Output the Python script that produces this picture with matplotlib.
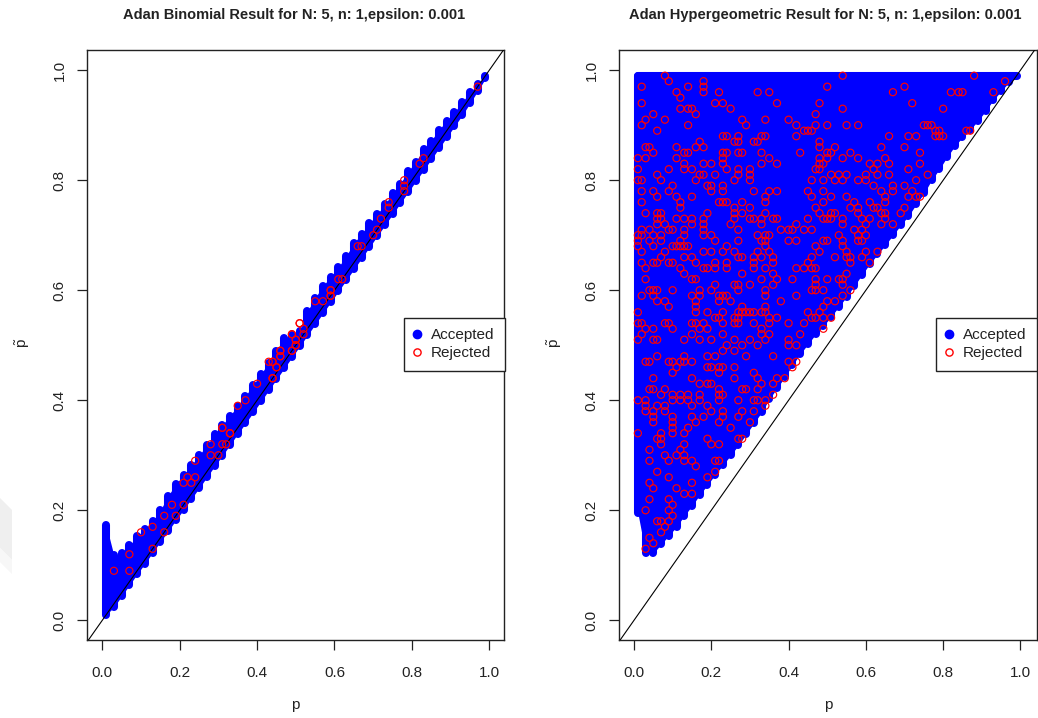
import matplotlib
matplotlib.use("Agg")
import matplotlib.pyplot as plt
from matplotlib.patches import Polygon
from matplotlib.lines import Line2D

plt.rcParams['font.family'] = ['Liberation Sans', 'DejaVu Sans']
plt.rcParams['mathtext.fontset'] = 'custom'
plt.rcParams['mathtext.rm'] = 'Liberation Sans'
plt.rcParams['mathtext.it'] = 'Liberation Sans'

title_left = "Adan Binomial Result for N: 5, n: 1,epsilon: 0.001"
title_right = "Adan Hypergeometric Result for N: 5, n: 1,epsilon: 0.001"
tick_values = [0.0, 0.2, 0.4, 0.6, 0.8, 1.0]
tick_labels = ["0.0", "0.2", "0.4", "0.6", "0.8", "1.0"]
legend_labels = ["Accepted", "Rejected"]

# accepted region, column by column
acc_p = [.01, .03, .05, .07, .09, .11, .13, .15, .17, .19, .21, .23, .25, .27, .29, .31, .33,
         .35, .37, .39, .41, .43, .45, .47, .49, .51, .53, .55, .57, .59, .61, .63, .65, .67,
         .69, .71, .73, .75, .77, .79, .81, .83, .85, .87, .89, .91, .93, .95, .97, .99]
acc_left_lo = [.01, .024, .044, .064, .084, .103, .123, .143, .162, .182, .201, .221, .240, .260, .280, .299, .319,
               .339, .358, .378, .398, .418, .438, .458, .478, .498, .518, .538, .558, .578, .598, .618, .638, .658,
               .678, .698, .718, .738, .758, .778, .798, .818, .838, .858, .878, .898, .918, .940, .962, .985]
acc_left_hi = [.173, .118, .122, .136, .153, .166, .180, .200, .226, .248, .264, .282, .300, .318,
               .338, .355, .372, .390, .408, .428, .448, .468, .490, .513, .518, .526, .562, .586,
               .608, .624, .642, .662, .686, .702, .722, .738, .756, .776, .794, .816, .834, .856,
               .872, .892, .908, .924, .942, .960, .974, .990]
acc_right_lo = [.195, .122, .122, .138, .154, .170, .190, .208, .228, .246, .265, .282, .300, .318,
                .338, .358, .378, .402, .422, .442, .464, .484, .502, .520, .535, .552, .570, .588,
                .608, .628, .648, .665, .682, .700, .718, .735, .756, .776, .800, .820, .842, .862,
                .878, .892, .908, .926, .946, .962, .978, .99]
acc_right_hi = [.99] * 50

# rejected points, left panel
rej_left_p = [.03, .07, .07, .13, .10, .13, .16, .16, .19, .18, .21, .21, .23, .22, .24, .24, .28, .30,
              .28, .31, .32, .33, .31, .33, .31, .33, .35, .37, .40, .44, .45, .43, .44, .46, .46, .49,
              .49, .50, .50, .51, .44, .44, .45, .46, .46, .49, .50, .50, .49, .51, .52, .52, .55, .57,
              .59, .59, .62, .59, .59, .61, .66, .67, .70, .71, .72, .74, .74, .78, .78, .78, .82, .83, .97]
rej_left_q = [.09, .09, .12, .13, .16, .17, .16, .19, .19, .21, .21, .25, .25, .26, .26, .29, .30, .30,
              .32, .32, .32, .34, .35, .34, .35, .34, .39, .40, .43, .44, .46, .47, .47, .48, .49, .49,
              .52, .51, .50, .54, .44, .47, .46, .49, .48, .49, .50, .51, .52, .54, .53, .52, .58, .58,
              .60, .59, .62, .60, .59, .62, .68, .68, .70, .71, .73, .76, .75, .80, .79, .78, .83, .84, .97]

# rejected points, right panel: one row per p-tilde value
rej_right_rows = [
    (.99, [.08, .54, .88]),
    (.98, [.09, .18, .96]),
    (.97, [.02, .14, .18, .50, .70]),
    (.96, [.11, .18, .22, .32, .35, .67, .82, .84, .85, .93]),
    (.95, [.12]),
    (.94, [.02, .21, .23, .37, .48, .72]),
    (.93, [.12, .14, .15, .25, .54, .80]),
    (.92, [.05, .16, .47]),
    (.91, [.03, .08, .28, .34, .40]),
    (.90, [.02, .14, .29, .42, .47, .50, .55, .58, .75, .76, .77]),
    (.89, [.06, .44, .45, .46, .78, .79, .86, .87]),
    (.88, [.23, .24, .27, .33, .34, .42, .66, .71, .73, .78, .79, .80]),
    (.87, [.17, .26, .27, .31, .32, .48]),
    (.86, [.03, .04, .11, .16, .18, .48, .52, .64, .70]),
    (.85, [.05, .13, .14, .23, .24, .27, .28, .33, .43, .50, .51, .56, .74]),
    (.84, [.01, .03, .11, .23, .35, .48, .50, .54, .58, .65]),
    (.83, [.13, .18, .20, .23, .33, .37, .48, .49, .61, .63, .66, .74]),
    (.82, [.01, .09, .13, .15, .24, .27, .30, .47, .48, .62, .71]),
    (.81, [.06, .17, .18, .21, .27, .30, .51, .53, .55, .60, .63, .66, .76]),
    (.80, [.01, .02, .07, .16, .26, .30, .46, .49, .52, .54, .58, .60, .73]),
    (.79, [.10, .19, .20, .23, .62, .67, .70]),
    (.78, [.02, .05, .09, .20, .23, .31, .35, .37, .45, .49, .64, .67, .72]),
    (.77, [.06, .11, .15, .34, .46, .51, .55, .65, .71, .73, .74]),
    (.76, [.02, .12, .22, .23, .24, .28, .34, .49, .57, .61, .65]),
    (.75, [.12, .26, .30, .47, .56, .58, .62, .63, .70]),
    (.74, [.03, .06, .07, .19, .26, .28, .34, .48, .51, .52, .58, .64, .65, .69]),
    (.73, [.06, .07, .11, .13, .15, .18, .26, .30, .31, .33, .36, .37, .45, .49, .50, .51, .54, .59, .61, .65]),
    (.72, [.06, .08, .15, .18, .25, .33, .42, .54, .60, .64, .67]),
    (.71, [.02, .04, .09, .10, .13, .18, .27, .38, .40, .41, .44, .46, .57, .59]),
    (.70, [.01, .02, .05, .07, .13, .18, .20, .32, .34, .35, .53, .58, .60]),
    (.69, [.01, .04, .07, .12, .21, .27, .33, .34, .40, .42, .49, .50, .54, .58, .59]),
    (.68, [.01, .05, .10, .11, .12, .13, .14, .24, .34, .47, .54]),
    (.67, [.02, .08, .18, .20, .23, .26, .32, .35, .48, .55, .60, .63]),
    (.66, [.07, .13, .15, .27, .28, .31, .33, .36, .46, .52, .55, .56, .59]),
    (.65, [.02, .05, .06, .09, .10, .16, .21, .24, .31, .36, .45, .56, .61]),
    (.64, [.03, .12, .18, .19, .21, .24, .31, .34, .42, .44, .46, .47]),
    (.63, [.13, .28, .36, .55]),
    (.62, [.03, .15, .16, .33, .37, .41, .47, .50, .53, .54]),
    (.61, [.21, .26, .27, .30, .36, .47, .54]),
    (.60, [.04, .05, .06, .10, .17, .20, .27, .34, .46, .47, .49, .56]),
    (.59, [.02, .05, .15, .17, .22, .23, .24, .34, .42, .54]),
    (.58, [.06, .08, .16, .22, .25, .38, .50, .52]),
    (.57, [.09, .16, .28, .34, .49]),
    (.56, [.01, .16, .19, .23, .27, .28, .29, .30, .31, .33, .34, .45, .48]),
    (.55, [.21, .22, .26, .27, .35, .37, .46, .47, .49, .51]),
    (.54, [.01, .02, .08, .09, .15, .16, .18, .23, .26, .27, .31, .35, .40, .44]),
    (.53, [.03, .05, .10, .17, .19, .33, .49]),
    (.52, [.02, .15, .23, .33, .35, .43]),
    (.51, [.01, .05, .06, .13, .17, .20, .26, .30, .34, .40]),
    (.50, [.24, .28, .32, .40, .42]),
    (.49, [.23, .26]),
    (.48, [.06, .13, .19, .21, .29, .36]),
    (.47, [.03, .04, .09, .10, .12, .13, .15, .40, .42]),
    (.46, [.11, .19, .20, .22, .23, .26, .41]),
    (.45, [.10, .22, .31]),
    (.44, [.05, .15, .26, .32, .37, .39]),
    (.43, [.17, .19, .20, .33, .36]),
    (.42, [.04, .05, .08, .22, .28, .29, .32]),
    (.41, [.07, .10, .12, .14, .17, .22, .23, .36]),
    (.40, [.01, .03, .10, .12, .14, .17, .22, .27, .31, .32, .34]),
    (.39, [.03, .06, .08, .15, .19, .34]),
    (.38, [.03, .05, .08, .20, .23, .28, .31]),
    (.37, [.05, .10, .15, .18, .23, .27]),
    (.36, [.05, .10, .16, .22, .30]),
    (.35, [.10, .14, .25]),
    (.34, [.01, .07, .10, .13]),
    (.33, [.06, .07, .19, .27, .28]),
    (.32, [.07, .13, .20, .22]),
    (.31, [.04, .12]),
    (.30, [.08, .11, .13]),
    (.29, [.04, .09, .13, .15, .21, .22]),
    (.28, [.16]),
    (.27, [.06, .21]),
    (.26, [.09, .19]),
    (.25, [.04, .15]),
    (.24, [.05, .11]),
    (.23, [.13, .15]),
    (.22, [.04, .09]),
    (.21, [.10]),
    (.20, [.03, .09]),
    (.19, [.10]),
    (.18, [.06, .07, .09]),
    (.17, [.08]),
    (.16, [.07]),
    (.15, [.04]),
    (.14, [.05]),
    (.13, [.03]),
]
rej_right_p = [p for q, ps in rej_right_rows for p in ps]
rej_right_q = [q for q, ps in rej_right_rows for p in ps]

W, H = 1038, 718
BLUE, RED = '#0000FF', '#FF0000'
FS = 11
fig = plt.figure(figsize=(W / 100, H / 100), dpi=100)

# faint background mark at the left edge of the sheet
fig.add_artist(Polygon([(0, 1 - 498 / H), (12 / W, 1 - 510 / H), (12 / W, 1 - 560 / H), (0, 1 - 548 / H)],
                       closed=True, transform=fig.transFigure, fc='#efefef', ec='none', zorder=-5))
fig.add_artist(Polygon([(0, 1 - 548 / H), (12 / W, 1 - 560 / H), (12 / W, 1 - 574 / H), (0, 1 - 562 / H)],
                       closed=True, transform=fig.transFigure, fc='#f7f7f7', ec='none', zorder=-5))


def panel(x0, x1, xlim, lo, hi, rp, rq, title, ylab_px, tcx, leg_x, flat_top):
    ax = fig.add_axes([x0 / W, 1 - 640 / H, (x1 - x0) / W, 590 / H])
    ax.set_xlim(*xlim)
    ax.set_ylim(-0.0358, 1.0367)
    lw = 5.8
    ax.fill_between(acc_p, lo, hi, color=BLUE, lw=0, zorder=2)
    ax.vlines(acc_p, lo, hi, colors=BLUE, linewidth=lw, capstyle='round', zorder=2)
    if flat_top:
        ax.plot(acc_p, hi, color=BLUE, lw=lw, solid_capstyle='round', zorder=2)
    ax.axline((0, 0), slope=1, color='black', lw=0.8, zorder=3)
    ax.scatter(rp, rq, s=26, facecolors='none', edgecolors=RED, linewidths=0.85, zorder=4)
    ax.set_xticks(tick_values, tick_labels, fontsize=FS)
    ax.set_yticks(tick_values, tick_labels, fontsize=FS, rotation=90, va='center')
    ax.tick_params(length=7, width=0.9, color='#222222', labelcolor='#222222')
    ax.tick_params(axis='x', pad=12)
    ax.tick_params(axis='y', pad=7.5)
    for s in ax.spines.values():
        s.set_linewidth(1.0)
        s.set_color('#222222')
    fig.text(tcx / W, 1 - 14.5 / H, title, fontsize=10.5, fontweight='bold', ha='center', va='center', color='#222222')
    fig.text((x0 + x1) / 2 / W, 1 - 705 / H, 'p', fontsize=FS, ha='center', va='center', color='#222222')
    fig.text(ylab_px / W, 1 - 343 / H, r'$\tilde{\mathrm{p}}$', fontsize=FS, rotation=90,
             ha='center', va='center', color='#222222')
    handles = [Line2D([], [], ls='', marker='o', ms=6, mfc=BLUE, mec=BLUE),
               Line2D([], [], ls='', marker='o', ms=5.2, mfc='none', mec=RED, mew=1.0)]
    leg = ax.legend(handles, legend_labels, loc='upper left', fontsize=FS,
                    bbox_to_anchor=((leg_x - x0) / (x1 - x0), (640 - 317.5) / 590), borderaxespad=0,
                    fancybox=False, framealpha=1, edgecolor='#222222', handletextpad=0.7,
                    labelspacing=0.28, borderpad=0.7, handlelength=0.36)
    leg.get_frame().set_linewidth(1.0)
    for t in leg.get_texts():
        t.set_color('#222222')
    return ax


panel(87, 504, (-0.0395, 1.038), acc_left_lo, acc_left_hi, rej_left_p, rej_left_q,
      title_left, 23, 294, 404, False)
panel(619, 1036.7, (-0.0388, 1.042), acc_right_lo, acc_right_hi, rej_right_p, rej_right_q,
      title_right, 555, 825, 936, True)

fig.savefig('out.png', dpi=100)
